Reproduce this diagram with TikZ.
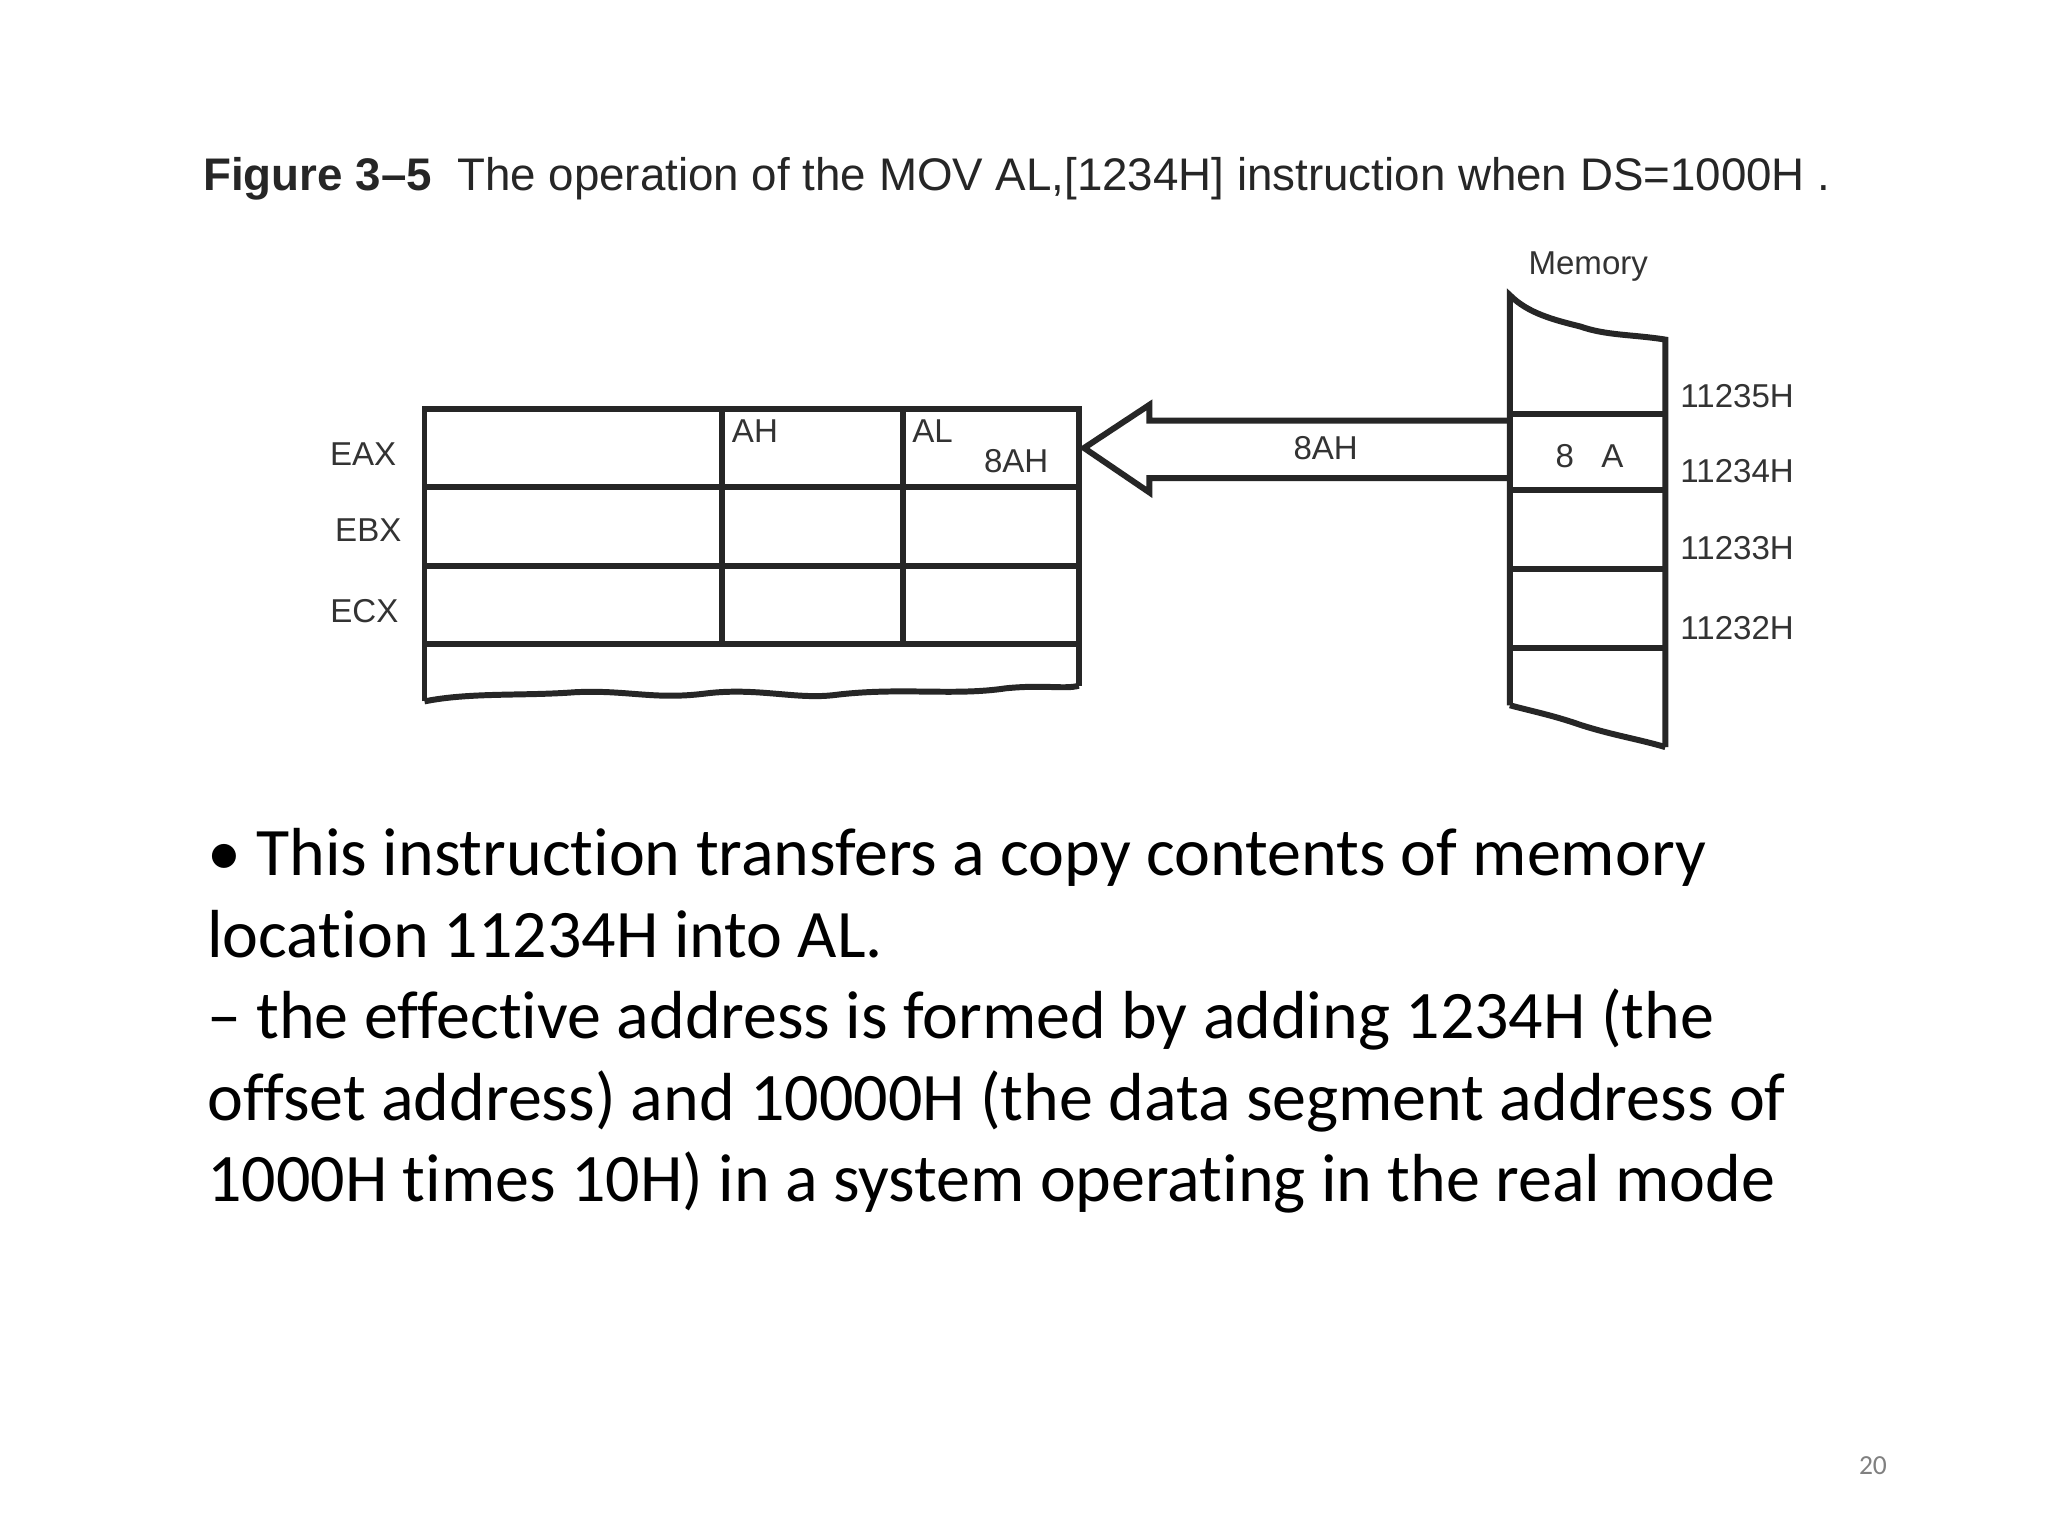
\documentclass[tikz,border=0pt]{standalone}
\usepackage{fontspec}
\setmainfont{Carlito}[Ligatures={TeX,NoCommon}]
\newfontfamily\hel{Liberation Sans}
\begin{document}
\begin{tikzpicture}[x=0.01cm,y=-0.01cm,
  lab/.style={font=\hel\fontsize{7.2}{8}\selectfont,text=black!80,inner sep=0pt},
  body/.style={font=\fontsize{14.8}{17}\selectfont,anchor=base west,inner sep=0pt},
  ln/.style={line width=1.3pt,black!85}]
\useasboundingbox[fill=white] (0,0) rectangle (1568,1176);
\node[anchor=base west,inner sep=0pt,font=\hel\fontsize{9.95}{11}\selectfont,text=black!85] (cap) at (155,146) {\textbf{Figure 3–5}\ \ The operation of the MOV AL,[1234H] instruction when DS=1000H .};
% registers
\draw[ln] (325,537) -- (325,313) -- (826,313) -- (826,525);
\foreach \y in {373,433,493} \draw[ln] (325,\y) -- (826,\y);
\draw[ln] (553,313) -- (553,493) (691,313) -- (691,493);
\draw[ln] (325,537) .. controls (360,530) and (400,533) .. (440,530) .. controls (480,528) and (500,536) .. (540,531) .. controls (580,526) and (610,536) .. (640,532) .. controls (690,526) and (730,533) .. (770,527) .. controls (800,524) and (815,528) .. (826,525);
\node[lab] (eax) at (278,348) {EAX};
\node[lab] (ebx) at (282,406) {EBX};
\node[lab] (ecx) at (279,468) {ECX};
\node[lab] (ah) at (578,330) {AH};
\node[lab] (al) at (714,330) {AL};
\node[lab] (v) at (778,353) {8AH};
% arrow
\draw[ln] (1156,322) -- (880,322) -- (880,310) -- (830,343) -- (880,377) -- (880,366) -- (1156,366);
\node[lab] (a8) at (1015,343) {8AH};
% memory
\draw[ln] (1156,540) -- (1156,226) .. controls (1170,240) and (1190,245) .. (1210,250) .. controls (1230,257) and (1250,256) .. (1275,260) -- (1275,572);
\draw[ln] (1156,540) .. controls (1175,545) and (1190,548) .. (1210,555) .. controls (1235,563) and (1255,566) .. (1275,572);
\foreach \y in {317,375,436,496} \draw[ln] (1156,\y) -- (1275,\y);
\node[lab] (mem) at (1216,204) {Memory};
\node[lab] (m8) at (1217,349) {8\ \ \ A};
\node[lab] (a5) at (1330,303) {11235H};
\node[lab] (a4) at (1330,361) {11234H};
\node[lab] (a3) at (1330,420) {11233H};
\node[lab] (a2) at (1330,481) {11232H};
% body
\node[body] (t1) at (158,670) {• This instruction transfers a copy contents of memory};
\node[body] (t2) at (158,733) {location 11234H into AL.};
\node[body] (t3) at (158,795) {– the effective address is formed by adding 1234H (the};
\node[body] (t4) at (158,858) {offset address) and 10000H (the data segment address of};
\node[body] (t5) at (158,920) {1000H times 10H) in a system operating in the real mode};
\node[font=\fontsize{6}{7}\selectfont,text=black!50,inner sep=0pt] (pg) at (1434,1122) {20};
\end{tikzpicture}
\end{document}
